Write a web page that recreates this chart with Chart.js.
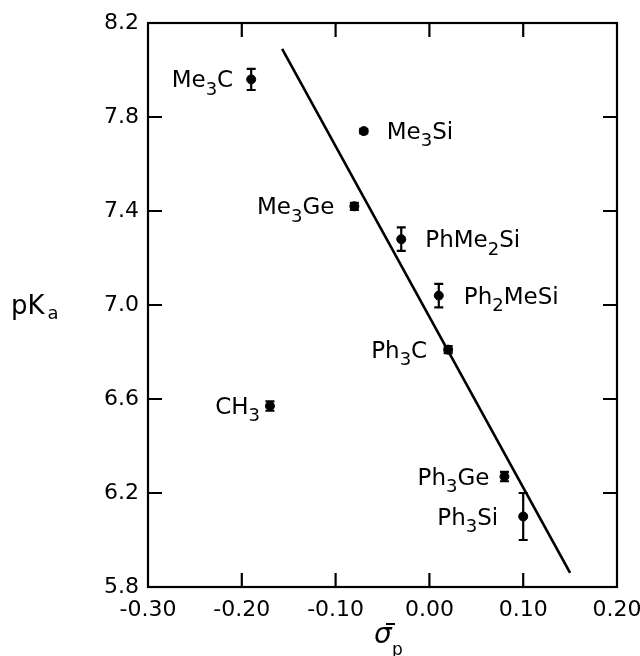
<!DOCTYPE html>
<html>
<head>
<meta charset="utf-8">
<script src="https://cdn.jsdelivr.net/npm/chart.js@4.4.0/dist/chart.umd.min.js"></script>
<style>
  html, body { margin: 0; padding: 0; background: #fff; }
  #wrap { width: 640px; height: 656px; }
</style>
</head>
<body>
<div id="wrap"><canvas id="chart"></canvas></div>
<script>
// data
const substituents = ['Me3C', 'Me3Si', 'Me3Ge', 'PhMe2Si', 'Ph2MeSi', 'Ph3C', 'CH3', 'Ph3Ge', 'Ph3Si'];
const sigmaP = [-0.19, -0.07, -0.08, -0.03, 0.01, 0.02, -0.17, 0.08, 0.10];
const pKa = [7.96, 7.74, 7.42, 7.28, 7.04, 6.81, 6.57, 6.27, 6.10];
const pKaErr = [0.045, 0.01, 0.015, 0.05, 0.05, 0.015, 0.02, 0.02, 0.10];
const fitX = [-0.157, 0.150];
const fitY = [8.09, 5.86];
const xTicks = [-0.30, -0.20, -0.10, 0.00, 0.10, 0.20];
const yTicks = [5.8, 6.2, 6.6, 7.0, 7.4, 7.8, 8.2];

// where each label sits relative to its point
const labelSide = ['left', 'right', 'left', 'right', 'right', 'left', 'left', 'left', 'left'];
const labelGap = [18, 23, 20, 24, 25, 21, 10, 15, 25];

const FONT = '"DejaVu Sans", Arial, sans-serif';

// draw text where digits are subscripts (Me3C -> Me₃C)
function subText(ctx, text, x, y, align, size) {
    const parts = text.match(/\d+|\D+/g);
    const subSize = Math.round(size * 0.78);
    let width = 0;
    parts.forEach(p => {
        ctx.font = (/\d/.test(p) ? subSize : size) + 'px ' + FONT;
        width += ctx.measureText(p).width;
    });
    let cx = align === 'right' ? x - width : x;
    ctx.textAlign = 'left';
    ctx.textBaseline = 'alphabetic';
    parts.forEach(p => {
        const isSub = /\d/.test(p);
        ctx.font = (isSub ? subSize : size) + 'px ' + FONT;
        ctx.fillText(p, cx, isSub ? y + size * 0.32 : y);
        cx += ctx.measureText(p).width;
    });
    return cx;
}

const decorations = {
    id: 'decorations',
    afterDatasetsDraw(chart) {
        const ctx = chart.ctx;
        const xs = chart.scales.x, ys = chart.scales.y;
        const a = chart.chartArea;
        ctx.save();
        ctx.strokeStyle = '#000';
        ctx.fillStyle = '#000';

        // frame
        ctx.lineWidth = 2.2;
        ctx.strokeRect(a.left, a.top, a.right - a.left, a.bottom - a.top);

        // inward tick marks on all four sides
        const tl = 14;
        ctx.beginPath();
        xTicks.slice(1, -1).forEach(v => {
            const px = xs.getPixelForValue(v);
            ctx.moveTo(px, a.bottom); ctx.lineTo(px, a.bottom - tl);
            ctx.moveTo(px, a.top); ctx.lineTo(px, a.top + tl);
        });
        yTicks.slice(1, -1).forEach(v => {
            const py = ys.getPixelForValue(v);
            ctx.moveTo(a.left, py); ctx.lineTo(a.left + tl, py);
            ctx.moveTo(a.right, py); ctx.lineTo(a.right - tl, py);
        });
        ctx.stroke();

        // error bars
        ctx.lineWidth = 2.2;
        ctx.beginPath();
        sigmaP.forEach((s, i) => {
            const px = xs.getPixelForValue(s);
            const hi = ys.getPixelForValue(pKa[i] + pKaErr[i]);
            const lo = ys.getPixelForValue(pKa[i] - pKaErr[i]);
            ctx.moveTo(px, hi); ctx.lineTo(px, lo);
            ctx.moveTo(px - 4.5, hi); ctx.lineTo(px + 4.5, hi);
            ctx.moveTo(px - 4.5, lo); ctx.lineTo(px + 4.5, lo);
        });
        ctx.stroke();

        // point labels
        substituents.forEach((name, i) => {
            const px = xs.getPixelForValue(sigmaP[i]);
            const py = ys.getPixelForValue(pKa[i]);
            const side = labelSide[i];
            const x = side === 'left' ? px - labelGap[i] : px + labelGap[i];
            subText(ctx, name, x, py + 8, side === 'left' ? 'right' : 'left', 23);
        });

        // y axis title: pKa
        ctx.font = '26px ' + FONT;
        ctx.textAlign = 'left';
        ctx.fillText('pK', 11, 314);
        const pkw = ctx.measureText('pK').width;
        ctx.font = '18px ' + FONT;
        ctx.fillText('a', 11 + pkw + 3, 319);

        // x axis title: sigma-minus para
        ctx.font = 'oblique 28px ' + FONT;
        ctx.fillText('σ', 374, 643);
        ctx.lineWidth = 2;
        ctx.beginPath();
        ctx.moveTo(386, 624); ctx.lineTo(395, 624);
        ctx.stroke();
        ctx.font = '17px ' + FONT;
        ctx.fillText('p', 392, 655);
        ctx.restore();
    }
};

new Chart(document.getElementById('chart'), {
    type: 'scatter',
    data: {
        datasets: [
            {
                label: 'pKa',
                data: sigmaP.map((s, i) => ({ x: s, y: pKa[i] })),
                pointRadius: 4.5,
                pointBackgroundColor: '#000',
                pointBorderColor: '#000',
                showLine: false
            },
            {
                label: 'fit',
                data: fitX.map((s, i) => ({ x: s, y: fitY[i] })),
                showLine: true,
                borderColor: '#000',
                borderWidth: 2.6,
                pointRadius: 0
            }
        ]
    },
    options: {
        responsive: true,
        maintainAspectRatio: false,
        animation: false,
        layout: { padding: { top: 23, right: 23, left: 0, bottom: 0 } },
        plugins: {
            legend: { display: false },
            tooltip: { enabled: false }
        },
        scales: {
            x: {
                type: 'linear',
                min: -0.30,
                max: 0.20,
                afterBuildTicks: scale => { scale.ticks = xTicks.map(v => ({ value: v })); },
                afterFit: scale => {
                    scale.height = 69;
                    scale.paddingLeft = 0;
                    scale.paddingRight = 0;
                },
                grid: { display: false },
                border: { display: false },
                ticks: {
                    color: '#000',
                    padding: 2,
                    font: { family: FONT, size: 22 },
                    maxRotation: 0,
                    callback: v => v.toFixed(2)
                }
            },
            y: {
                type: 'linear',
                min: 5.8,
                max: 8.2,
                afterBuildTicks: scale => { scale.ticks = yTicks.map(v => ({ value: v })); },
                afterFit: scale => {
                    scale.width = 148;
                    scale.paddingTop = 0;
                    scale.paddingBottom = 0;
                },
                grid: { display: false },
                border: { display: false },
                ticks: {
                    color: '#000',
                    padding: 1,
                    font: { family: FONT, size: 22 },
                    callback: v => v.toFixed(1)
                }
            }
        }
    },
    plugins: [decorations]
});
</script>
</body>
</html>
